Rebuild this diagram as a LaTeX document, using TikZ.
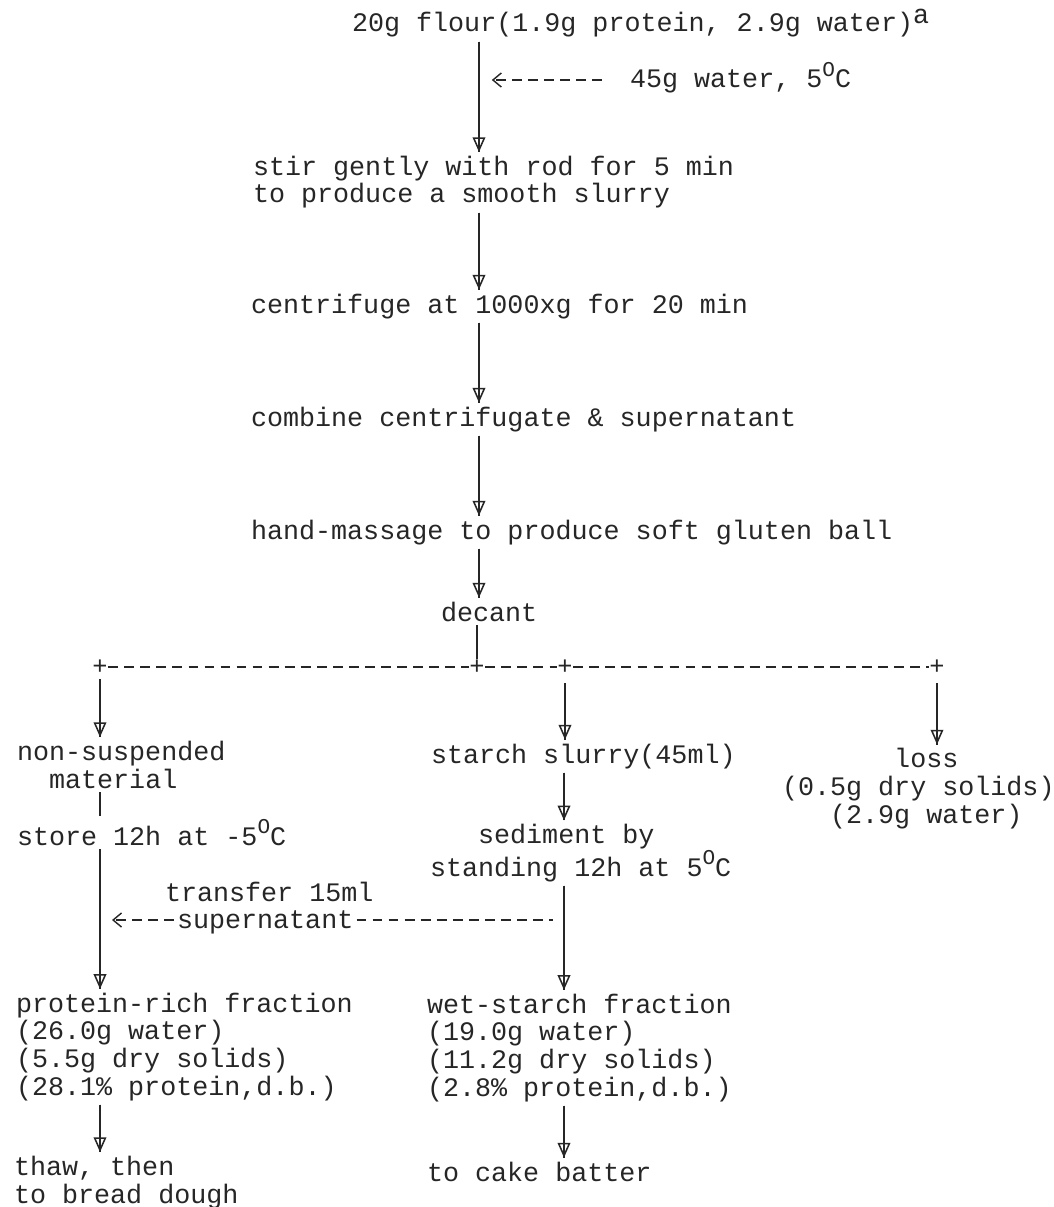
\documentclass[tikz,border=0pt]{standalone}
\usepackage{fontspec}
\setmainfont{Liberation Mono}
\usetikzlibrary{arrows.meta}

\newcommand\degO{\raisebox{0.42em}{\fontsize{15pt}{15pt}\selectfont O}}

\tikzset{
  txt/.style={anchor=base west, align=left, inner sep=0pt, outer sep=0.1cm,
    font=\fontsize{19pt}{19.6pt}\selectfont},
  joint/.style={inner sep=0pt, font=\fontsize{18pt}{18pt}\selectfont},
  flow/.style={postaction={draw, -{Triangle[open, length=10.5pt, width=9pt]}}},
  hyph/.style={line width=2pt, dash pattern=on 7pt off 4.4pt},
  feed/.style={hyph, -{Straight Barb[length=6pt, width=10pt, line width=1pt]}},
}

\begin{document}
\begin{tikzpicture}[x=0.025cm, y=-0.025cm, line width=1.1pt, color=black!85]
    \useasboundingbox (0,0) rectangle (1053,1207);
    % stems
    \coordinate (colA) at (479,0);
    \coordinate (colL) at (100,0);
    \coordinate (colB) at (564,0);
    %
    \node[txt] (flour) at (348,32) {20g flour(1.9g protein, 2.9g water)\raisebox{0.3em}{a}};
    \node[txt] (water) at (626,88) {45g water, 5\degO C};
    \node[txt] (stir) at (249,203) {stir gently with rod for 5 min\\to produce a smooth slurry};
    \node[txt] (cfg) at (247,313) {centrifuge at 1000xg for 20 min};
    \node[txt] (comb) at (247,426) {combine centrifugate \& supernatant};
    \node[txt] (hand) at (247,539) {hand-massage to produce soft gluten ball};
    \node[txt] (dec) at (437,621) {decant};
    %
    \node[joint] (jl) at (100,667) {+};
    \node[joint] (jm) at (477,667) {+};
    \node[joint] (js) at (565,667) {+};
    \node[joint] (jr) at (937,667) {+};
    %
    \node[txt] (nonsus) at (13,788) {non-suspended\\\phantom{no}material};
    \node[txt] (store) at (13,845) {store 12h at -5\degO C};
    \node[txt] (transfer) at (161,901) {transfer 15ml};
    \node[txt, outer sep=0pt] (super) at (177,928) {supernatant};
    \node[txt] (prot) at (12,1095) {protein-rich fraction\\(26.0g water)\\(5.5g dry solids)\\(28.1\% protein,d.b.)};
    \node[txt] (thaw) at (10,1203) {thaw, then\\to bread dough};
    %
    \node[txt] (starch) at (427,763) {starch slurry(45ml)};
    \node[txt] (sed) at (426,876) {\phantom{sta}sediment by\\standing 12h at 5\degO C};
    \node[txt] (wet) at (423,1096) {wet-starch fraction\\(19.0g water)\\(11.2g dry solids)\\(2.8\% protein,d.b.)};
    \node[txt] (cake) at (423,1181) {to cake batter};
    %
    \node[txt] (loss) at (778,823) {\phantom{(0.5g d}loss\\(0.5g dry solids)\\\phantom{(0.}(2.9g water)};
    % main line
    \draw[flow] (flour.south -| colA) -- (stir.north -| colA);
    \draw[feed, shorten <=0.6cm, shorten >=0.32cm] ([yshift=0.2cm]water.base west) -- ([yshift=0.2cm]water.base west -| colA);
    \draw[flow] (stir.south -| colA) -- (cfg.north -| colA);
    \draw[flow] (cfg.south -| colA) -- (comb.north -| colA);
    \draw[flow] (comb.south -| colA) -- (hand.north -| colA);
    \draw[flow] (hand.south -| colA) -- (dec.north -| colA);
    \draw (dec.south -| jm) -- (jm);
    % split
    \draw[hyph] (jl) -- (jm) -- (js) -- (jr);
    \draw[flow] ([yshift=-0.3cm]jl.center) -- (nonsus.north -| jl);
    \draw[flow] ([yshift=-0.4cm]js.center) -- (starch.north -| js);
    \draw[flow] ([yshift=-0.4cm]jr.center) -- (loss.north -| jr);
    % left branch
    \draw (nonsus.south -| colL) -- (store.north -| colL);
    \draw[flow] (store.south -| colL) -- (prot.north -| colL);
    \draw[flow] (prot.south -| colL) -- (thaw.north -| colL);
    % middle branch
    \draw[flow] (starch.south -| colB) -- (sed.north -| colB);
    \draw[flow] (sed.south -| colB) -- (wet.north -| colB);
    \draw[flow] (wet.south -| colB) -- (cake.north -| colB);
    % supernatant back to the left
    \draw[hyph, shorten <=0.08cm, shorten >=0.27cm] ([yshift=0.2cm]super.base east) -- ([yshift=0.2cm]super.base east -| colB);
    \draw[feed, shorten <=0.08cm, shorten >=0.3cm] ([yshift=0.2cm]super.base west) -- ([yshift=0.2cm]super.base west -| colL);
\end{tikzpicture}
\end{document}
